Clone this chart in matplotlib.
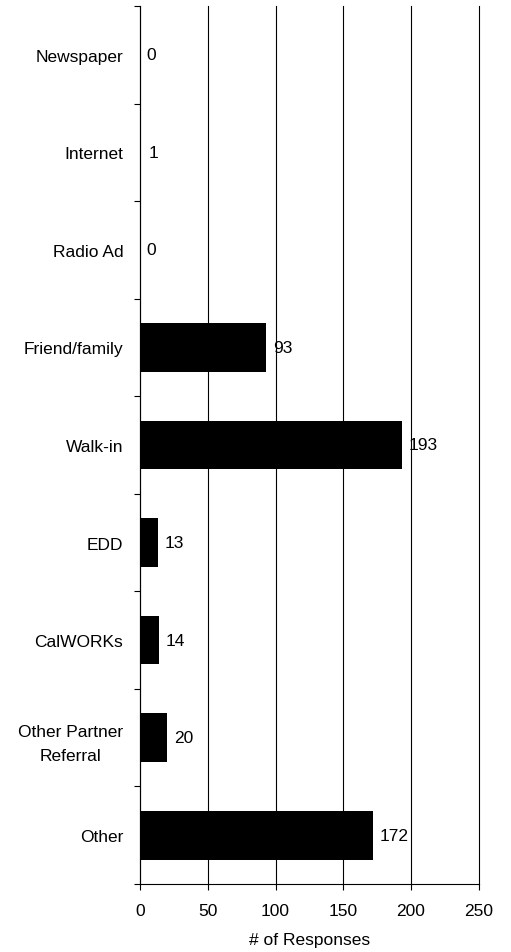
import numpy as np
import matplotlib.pyplot as plt

categories = ['Newspaper', 'Internet', 'Radio Ad', 'Friend/family', 'Walk-in',
              'EDD', 'CalWORKs', 'Other Partner\nReferral', 'Other']
responses = [0, 1, 0, 93, 193, 13, 14, 20, 172]
x_ticks = [0, 50, 100, 150, 200, 250]

plt.rcParams['font.family'] = ['Liberation Sans', 'DejaVu Sans']
fs = 12.5

fig = plt.figure(figsize=(5.11, 9.53), dpi=100)
ax = fig.add_axes([0.274, 0.0714, 0.663, 0.9213])

y = np.arange(len(categories))
ax.barh(y, responses, height=0.5, color='black', zorder=3)
for yi, v in zip(y, responses):
    ax.text(v + 5, yi, str(v), va='center', ha='left', fontsize=fs, zorder=4)

ax.set_ylim(len(categories) - 0.5, -0.5)
ax.set_xlim(0, 250)
ax.set_xticks(x_ticks)
ax.set_xticklabels([str(t) for t in x_ticks], fontsize=fs)
ax.set_yticks(y)
ax.set_yticklabels(categories, fontsize=fs)
for lbl in ax.get_yticklabels():
    lbl.set_multialignment('center')
    lbl.set_linespacing(1.7)
ax.tick_params(axis='y', which='major', length=0, pad=12)
ax.set_yticks(np.arange(len(categories) + 1) - 0.5, minor=True)
ax.tick_params(axis='y', which='minor', length=4, width=0.8, direction='out')
ax.tick_params(axis='x', length=4, width=0.8, direction='out', pad=10)

ax.xaxis.grid(True, color='black', linewidth=0.8)
for gl in ax.get_xgridlines():
    gl.set_clip_on(False)
ax.set_axisbelow(True)
for s in ['top', 'right']:
    ax.spines[s].set_visible(False)
for s in ['left', 'bottom']:
    ax.spines[s].set_linewidth(0.8)

ax.set_xlabel('# of Responses', fontsize=fs, labelpad=10)

fig.savefig('out.png', dpi=100)
